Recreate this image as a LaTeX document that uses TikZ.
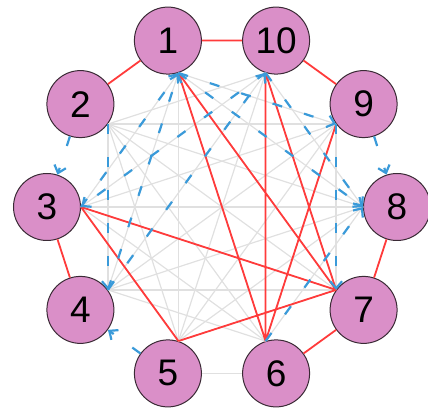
\documentclass[tikz,border=0pt]{standalone}
\usepackage{fontspec}
\setmainfont{Liberation Sans}
\usetikzlibrary{arrows.meta}
\definecolor{tspPink}{HTML}{DA8FC8}
\definecolor{tspRim}{HTML}{3A2A35}
\definecolor{tspRed}{HTML}{FF3B3B}
\definecolor{tspBlue}{HTML}{3A9AD9}
\definecolor{tspGray}{HTML}{E0E0E0}

\begin{document}
\begin{tikzpicture}[x=1pt, y=1pt,
  city/.style={circle, draw=tspRim, line width=1pt, fill=tspPink,
    minimum size=67pt, inner sep=0pt, font=\fontsize{37}{37}\selectfont},
  allEdge/.style={tspGray, line width=1.2pt},
  tourEdge/.style={tspRed, line width=1.8pt},
  hintEdge/.style={tspBlue, line width=2.2pt, dash pattern=on 10pt off 23pt,
    -{Straight Barb[length=7pt, width=12pt]}}]
  \useasboundingbox (0,0) rectangle (428,409);

  % cities on the ring
  \node[city] (n1)  at (167.9,368.4) {1};
  \node[city] (n10) at (276.1,368.4) {10};
  \node[city] (n9)  at (363.6,304.9) {9};
  \node[city] (n8)  at (397.0,202.0) {8};
  \node[city] (n7)  at (363.6,99.1)  {7};
  \node[city] (n6)  at (276.1,35.6)  {6};
  \node[city] (n5)  at (167.9,35.6)  {5};
  \node[city] (n4)  at (80.4,99.1)   {4};
  \node[city] (n3)  at (47.0,202.0)  {3};
  \node[city] (n2)  at (80.4,304.9)  {2};

  % inner ends, facing the middle
  \coordinate (a1)  at (n1.288);
  \coordinate (a10) at (n10.252);
  \coordinate (a9)  at (n9.216);
  \coordinate (a8)  at (n8.180);
  \coordinate (a7)  at (n7.144);
  \coordinate (a6)  at (n6.108);
  \coordinate (a5)  at (n5.72);
  \coordinate (a4)  at (n4.36);
  \coordinate (a3)  at (n3.0);
  \coordinate (a2)  at (n2.324);

  % every chord
  \foreach \i in {1,...,8}
    \foreach \j in {1,...,10} {
      \pgfmathtruncatemacro\gap{\j-\i}
      \ifnum\gap>1 \ifnum\gap<9 \draw[allEdge] (a\i) -- (a\j); \fi\fi
    }
  \draw[allEdge] (n5) -- (n6);

  % red edges
  \draw[tourEdge] (n1) -- (n10) (n10) -- (n9) (n8) -- (n7) (n7) -- (n6)
    (n4) -- (n3) (n2) -- (n1);
  \draw[tourEdge] (a1) -- (a7) (a1) -- (a6) (a10) -- (a7) (a10) -- (a6)
    (a9) -- (a6) (a3) -- (a7) (a3) -- (a5) (a5) -- (a7);

  % blue dashed arrows
  \foreach \s/\t in {4/1, 3/1, 10/3, 2/4, 4/10, 1/9, 1/8, 10/8, 6/8, 9/7}
    \draw[hintEdge] (a\s) -- (a\t);
  \foreach \s/\t in {2/3, 5/4, 9/8}
    \draw[hintEdge] (n\s) -- (n\t);
\end{tikzpicture}
\end{document}
